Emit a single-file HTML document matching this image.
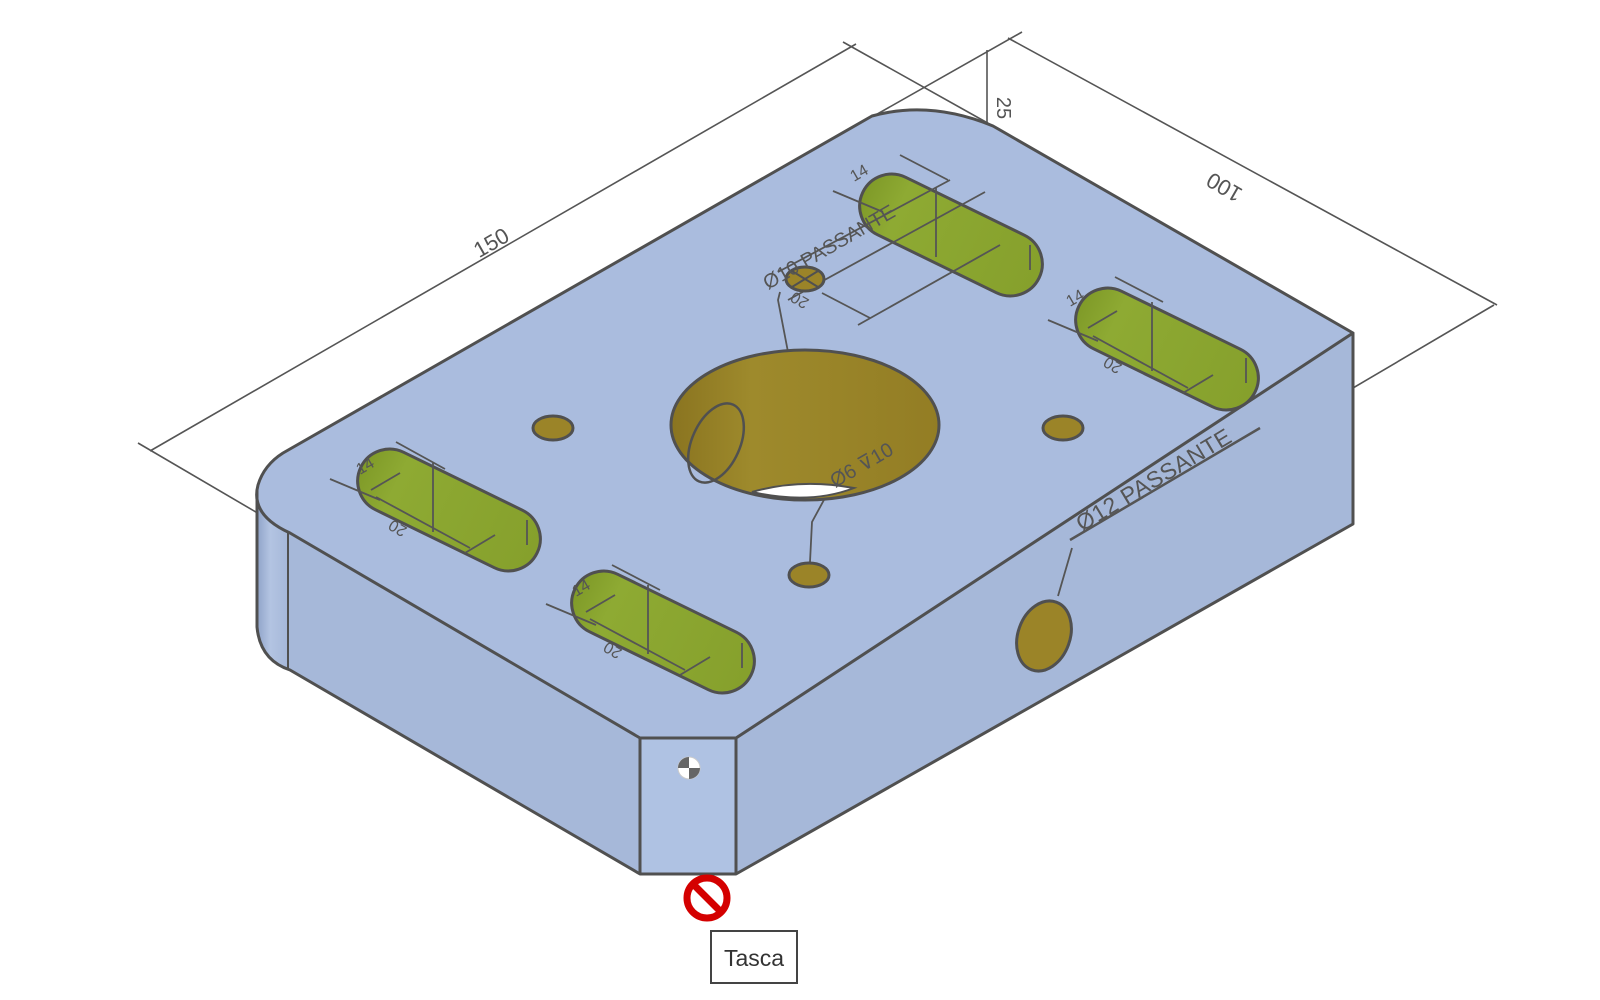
<!DOCTYPE html>
<html><head><meta charset="utf-8"><style>
html,body{margin:0;padding:0;background:#fff;}
svg{display:block;}
text{font-family:"Liberation Sans",sans-serif;fill:#555;}
</style></head><body>
<svg width="1600" height="1000" viewBox="0 0 1600 1000" xmlns="http://www.w3.org/2000/svg">
<defs>
<linearGradient id="rc" x1="0" x2="1"><stop offset="0" stop-color="#8fa3c8"/><stop offset="0.4" stop-color="#b3c4e2"/><stop offset="1" stop-color="#a4b6d8"/></linearGradient>
<linearGradient id="hole" x1="0" x2="1"><stop offset="0" stop-color="#8a7420"/><stop offset="0.3" stop-color="#9e8a2c"/><stop offset="1" stop-color="#937d24"/></linearGradient>
<linearGradient id="slot" x1="0" x2="1"><stop offset="0" stop-color="#7f9a28"/><stop offset="0.2" stop-color="#8eaa33"/><stop offset="1" stop-color="#86a02c"/></linearGradient>
</defs>

<g stroke="#555" stroke-width="1.6" fill="none">
<line x1="138" y1="443" x2="290" y2="532"/>
<line x1="150" y1="451" x2="856" y2="44"/>
<line x1="843" y1="42" x2="993" y2="126"/>
<line x1="872" y1="117" x2="1022" y2="32"/>
<line x1="1008" y1="38" x2="1497" y2="305"/>
<line x1="1353" y1="388" x2="1494" y2="305"/>
<line x1="987" y1="50" x2="987" y2="125"/>
</g>
<text x="492" y="250" font-size="22" transform="rotate(-30 492 244)" text-anchor="middle">150</text>
<text x="1225" y="192" font-size="22" transform="rotate(210 1225 186)" text-anchor="middle">100</text>
<text x="1004" y="115" font-size="20" transform="rotate(90 1004 108)" text-anchor="middle">25</text>

<path d="M257,493 L257,627 Q260,660 290,670 L290,533 Q258,520 257,493 Z" fill="url(#rc)" stroke="none"/>
<path d="M288,533 L640,738 L640,874 L288,670 Z" fill="#a6b8d9" stroke="none"/>
<rect x="640" y="738" width="96" height="136" fill="#afc2e3"/>
<path d="M736,738 L1353,333 L1353,524 L736,874 Z" fill="#a6b8d9"/>
<path d="M283,453 L872,116 Q930,100 993,126 L1353,333 L736,738 L640,738 L290,533 Q250,515 258,485 Q264,465 283,453 Z" fill="#aabcde"/>

<g stroke="#505050" stroke-width="3" fill="none" stroke-linejoin="round">
<path d="M283,453 L872,116 Q930,100 993,126 L1353,333 L736,738 L640,738 L290,533 Q250,515 258,485 Q264,465 283,453"/>
<path d="M257,490 L257,627 Q260,660 290,670 L640,874 L736,874 L1353,524 L1353,333"/>
<line x1="640" y1="738" x2="640" y2="874"/>
<line x1="736" y1="738" x2="736" y2="874"/>
<line x1="288" y1="533" x2="288" y2="670" stroke-width="2"/>
</g>

<g stroke="#505050" stroke-width="3" fill="url(#slot)">
<rect x="-98" y="-32" width="196" height="64" rx="32" transform="translate(449,510) rotate(26)"/>
<rect x="-98" y="-32" width="196" height="64" rx="32" transform="translate(663,632) rotate(26)"/>
<rect x="-98" y="-32" width="196" height="64" rx="32" transform="translate(951,235) rotate(26)"/>
<rect x="-98" y="-32" width="196" height="64" rx="32" transform="translate(1167,349) rotate(26)"/>
</g>
<g stroke="#555" stroke-width="1.8" fill="none">
<line x1="433" y1="463" x2="433" y2="532"/><line x1="527" y1="520" x2="527" y2="545"/>
<line x1="376" y1="497" x2="470" y2="548"/>
<line x1="330" y1="479" x2="380" y2="500"/><line x1="396" y1="442" x2="445" y2="469"/>
<line x1="465" y1="553" x2="495" y2="535"/><line x1="371" y1="490" x2="400" y2="473"/>
<line x1="648" y1="585" x2="648" y2="654"/><line x1="742" y1="643" x2="742" y2="668"/>
<line x1="590" y1="619" x2="685" y2="670"/><line x1="546" y1="604" x2="596" y2="625"/>
<line x1="612" y1="565" x2="660" y2="590"/><line x1="680" y1="675" x2="710" y2="657"/>
<line x1="586" y1="612" x2="615" y2="595"/>
<line x1="936" y1="188" x2="936" y2="257"/><line x1="1030" y1="245" x2="1030" y2="270"/>
<line x1="833" y1="191" x2="883" y2="212"/><line x1="900" y1="155" x2="948" y2="180"/>
<line x1="1152" y1="302" x2="1152" y2="371"/><line x1="1246" y1="358" x2="1246" y2="383"/>
<line x1="1093" y1="336" x2="1188" y2="388"/><line x1="1048" y1="320" x2="1098" y2="341"/>
<line x1="1115" y1="277" x2="1163" y2="302"/><line x1="1183" y1="393" x2="1213" y2="375"/>
<line x1="1088" y1="328" x2="1117" y2="311"/>
<line x1="778" y1="272" x2="950" y2="180"/>
<line x1="788" y1="300" x2="985" y2="192"/>
<line x1="822" y1="293" x2="870" y2="318"/>
<line x1="858" y1="325" x2="1000" y2="245"/>
<polyline points="780,292 778,300 788,352"/>
<polyline points="825,498 812,522 810,562"/>
<line x1="1072" y1="548" x2="1058" y2="596"/>
</g>
<line x1="1070" y1="540" x2="1260" y2="428" stroke="#555" stroke-width="2.5"/>

<ellipse cx="805" cy="425" rx="134" ry="75" fill="url(#hole)" stroke="#505050" stroke-width="3"/>
<path d="M752,492 Q800,478 854,488 Q810,505 752,492 Z" fill="#fff" stroke="#505050" stroke-width="2"/>
<ellipse cx="716" cy="443" rx="24" ry="42" transform="rotate(24 716 443)" fill="none" stroke="#505050" stroke-width="2.5"/>
<g fill="#9b8428" stroke="#505050" stroke-width="3">
<ellipse cx="553" cy="428" rx="20" ry="12"/>
<ellipse cx="1063" cy="428" rx="20" ry="12"/>
<ellipse cx="809" cy="575" rx="20" ry="12"/>
<ellipse cx="805" cy="279" rx="19" ry="12"/>
<ellipse cx="1044" cy="636" rx="26" ry="36" transform="rotate(20 1044 636)"/>
</g>
<g stroke="#505050" stroke-width="2"><line x1="792" y1="271" x2="818" y2="287"/><line x1="792" y1="287" x2="818" y2="271"/></g>

<g font-size="20">
<text x="768" y="290" transform="rotate(-30 768 290)">Ø10 PASSANTE</text>
<text x="835" y="488" transform="rotate(-30 835 488)">Ø6 ⊽10</text>
<text x="1082" y="532" font-size="23" transform="rotate(-31 1082 532)" letter-spacing="0.5">Ø12 PASSANTE</text>
<text x="360" y="475" font-size="16" transform="rotate(-30 360 475)">14</text>
<text x="576" y="597" font-size="16" transform="rotate(-30 576 597)">14</text>
<text x="854" y="182" font-size="16" transform="rotate(-30 854 182)">14</text>
<text x="1070" y="307" font-size="16" transform="rotate(-30 1070 307)">14</text>
<text x="408" y="528" font-size="16" transform="rotate(210 408 528)">20</text>
<text x="623" y="650" font-size="16" transform="rotate(210 623 650)">20</text>
<text x="810" y="300" font-size="16" transform="rotate(210 810 300)">20</text>
<text x="1123" y="365" font-size="16" transform="rotate(210 1123 365)">20</text>
</g>

<circle cx="689" cy="768" r="11" fill="#fff" stroke="#ccc" stroke-width="1"/>
<path d="M689,757 A11,11 0 0 0 678,768 L689,768 Z" fill="#666"/>
<path d="M689,779 A11,11 0 0 0 700,768 L689,768 Z" fill="#666"/>

<circle cx="707" cy="898" r="20" fill="none" stroke="#d40000" stroke-width="7"/>
<line x1="694" y1="885" x2="720" y2="911" stroke="#d40000" stroke-width="7"/>

<rect x="711" y="931" width="86" height="52" fill="#fff" stroke="#444" stroke-width="2"/>
<text x="754" y="966" font-size="23" text-anchor="middle" style="fill:#333">Tasca</text>
</svg>
</body></html>
